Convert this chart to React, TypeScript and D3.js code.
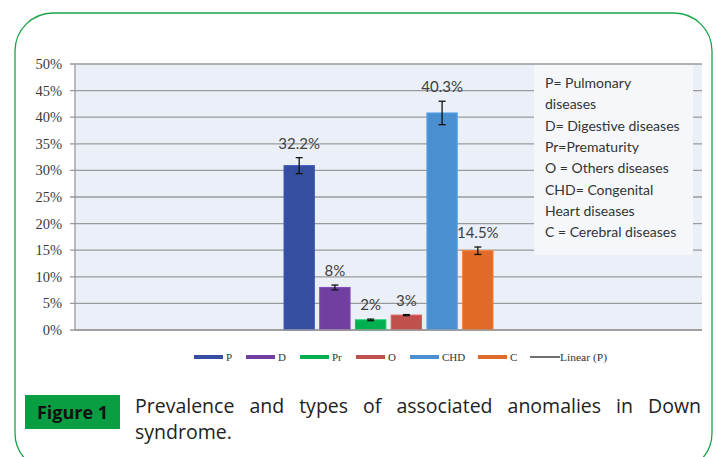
import React, { useLayoutEffect, useRef, useState } from "react";
import * as d3 from "d3";

const seriesNames = ["P", "D", "Pr", "O", "CHD", "C"];
const seriesValues = [30.9, 8.0, 1.9, 2.8, 40.8, 14.9];
const seriesErrors = [1.5, 0.45, 0.15, 0.1, 2.2, 0.7];
const seriesLabels = ["32.2%", "8%", "2%", "3%", "40.3%", "14.5%"];
const seriesColors = ["#354ea1", "#7040a0", "#00b050", "#c0504d", "#4a8fd0", "#e06a28"];
const yTicks = [0, 5, 10, 15, 20, 25, 30, 35, 40, 45, 50];
const noteLines = [
  "P= Pulmonary",
  "diseases",
  "D= Digestive diseases",
  "Pr=Prematurity",
  "O = Others diseases",
  "CHD= Congenital",
  "Heart diseases",
  "C = Cerebral diseases",
];
const legendX = [194, 246, 300, 356, 410, 478];
const captionLine1 = "Prevalence and types of associated anomalies in Down";
const captionLine2 = "syndrome.";

export default function App() {
  const W = 716, H = 457;
  const plot = { left: 75, right: 702, top: 64, bottom: 330 };
  const y = d3.scaleLinear().domain([0, 50]).range([plot.bottom, plot.top]);
  const xGroup = d3.scaleBand().domain(["g"]).range([plot.left, plot.right]).paddingInner(0).paddingOuter(1);
  const g0 = xGroup("g") as number;
  const xs = d3.scaleBand().domain(seriesNames).range([g0, g0 + xGroup.bandwidth()]).paddingInner(0.15).paddingOuter(0);

  const capRef = useRef<SVGTextElement>(null);
  const [wordSpacing, setWordSpacing] = useState(0);
  useLayoutEffect(() => {
    if (capRef.current) {
      const natural = capRef.current.getComputedTextLength();
      const target = 701 - 135;
      const gaps = captionLine1.split(" ").length - 1;
      setWordSpacing(Math.max(0, (target - natural) / gaps));
    }
  }, []);

  const sans = "Lato, 'Open Sans', sans-serif";
  const serif = "'Liberation Serif', 'DejaVu Serif', serif";

  return (
    <svg width={W} height={H} style={{ position: "absolute", left: 0, top: 0 }}>
      <rect x={0} y={0} width={W} height={H} fill="#fff" />
      <rect x={15} y={13} width={697} height={458} rx={38} ry={38} fill="none" stroke="#1aa44a" strokeWidth={1.3} />
      <rect x={plot.left} y={plot.top} width={plot.right - plot.left} height={plot.bottom - plot.top} fill="#ebf0f8" />
      {yTicks.map((t) => (
        <g key={t}>
          <line x1={plot.left - 5} x2={plot.right} y1={y(t)} y2={y(t)} stroke="#9a9a9a" strokeWidth={1.3} />
          <text x={62} y={y(t) + 5} textAnchor="end" fontFamily={serif} fontSize={14.5} fill="#3a3a3a">
            {t}%
          </text>
        </g>
      ))}
      <line x1={plot.left} x2={plot.left} y1={plot.top} y2={plot.bottom} stroke="#9a9a9a" strokeWidth={1.3} />
      {/* note box */}
      <rect x={534} y={65} width={159} height={190} fill="#f5f7fb" />
      {noteLines.map((l, i) => (
        <text key={i} x={545} y={88 + i * 21.3} fontFamily={sans} fontSize={14} fill="#333">
          {l}
        </text>
      ))}
      {seriesNames.map((s, i) => {
        const x0 = xs(s) as number;
        const bw = xs.bandwidth();
        const cx = x0 + bw / 2;
        const v = seriesValues[i];
        const e = seriesErrors[i];
        const top = y(v + e);
        const bot = y(v - e);
        return (
          <g key={s}>
            <rect x={x0} y={y(v)} width={bw} height={y(0) - y(v)} fill={seriesColors[i]} stroke={d3.color(seriesColors[i])!.brighter(0.4).toString()} strokeWidth={1} />
            <line x1={cx} x2={cx} y1={top} y2={bot} stroke="#111" strokeWidth={1.3} />
            <line x1={cx - 3.5} x2={cx + 3.5} y1={top} y2={top} stroke="#111" strokeWidth={1.3} />
            <line x1={cx - 3.5} x2={cx + 3.5} y1={bot} y2={bot} stroke="#111" strokeWidth={1.3} />
            <text x={cx} y={top - 9} textAnchor="middle" fontFamily={sans} fontSize={15} fill="#404040">
              {seriesLabels[i]}
            </text>
          </g>
        );
      })}
      <line x1={plot.left} x2={plot.right} y1={plot.bottom} y2={plot.bottom} stroke="#9a9a9a" strokeWidth={1.3} />
      {/* legend */}
      {seriesNames.map((s, i) => (
        <g key={s}>
          <rect x={legendX[i]} y={355} width={29} height={4} fill={seriesColors[i]} />
          <text x={legendX[i] + 32} y={361} fontFamily={serif} fontSize={11} fill="#333">
            {s}
          </text>
        </g>
      ))}
      <line x1={530} x2={560} y1={357} y2={357} stroke="#111" strokeWidth={1.2} />
      <text x={560} y={361} fontFamily={serif} fontSize={11} fill="#333" textLength={47} lengthAdjust="spacingAndGlyphs">
        Linear (P)
      </text>
      {/* caption */}
      <rect x={25} y={395} width={95} height={34} fill="#0a9e43" />
      <text x={72.5} y={419} textAnchor="middle" fontFamily="'Open Sans', sans-serif" fontWeight="bold" fontSize={18} fill="#111">
        Figure 1
      </text>
      <text ref={capRef} x={135} y={413} fontFamily="'Open Sans', sans-serif" fontSize={19.5} fill="#222" style={{ wordSpacing: `${wordSpacing}px` }}>
        {captionLine1}
      </text>
      <text x={135} y={439} fontFamily="'Open Sans', sans-serif" fontSize={19.5} fill="#222">
        {captionLine2}
      </text>
    </svg>
  );
}
